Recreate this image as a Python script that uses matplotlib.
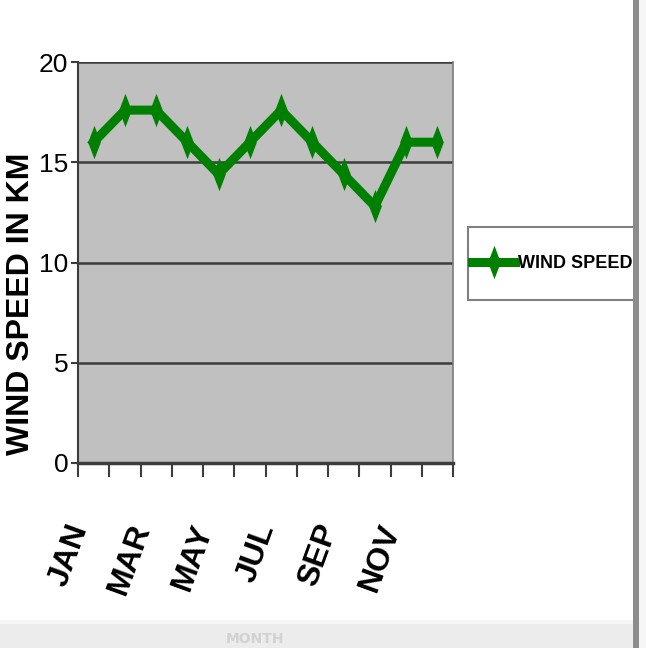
import numpy as np
import matplotlib
matplotlib.use("Agg")
import matplotlib.pyplot as plt
from matplotlib.path import Path
from matplotlib.patches import Rectangle

months = ['JAN', 'FEB', 'MAR', 'APR', 'MAY', 'JUN',
          'JUL', 'AUG', 'SEP', 'OCT', 'NOV', 'DEC']
wind_speed = [16.0, 17.6, 17.6, 16.0, 14.4, 16.0, 17.6, 16.0, 14.4, 12.8, 16.0, 16.0]
y_ticks = [0, 5, 10, 15, 20]

FONT = ['Liberation Sans', 'DejaVu Sans']

W, H = 646, 648
fig = plt.figure(figsize=(W / 100, H / 100), dpi=100)
fig.patch.set_facecolor('white')

# plot area (pixel box of the reference)
left, right, top, bottom = 78, 453, 62, 463
ax = fig.add_axes([left / W, 1 - bottom / H, (right - left) / W, (bottom - top) / H])
ax.set_facecolor('#c0c0c0')

# narrow diamond marker like excel's
diamond = Path([(0, 1), (0.38, 0), (0, -1), (-0.38, 0), (0, 1)],
               [Path.MOVETO, Path.LINETO, Path.LINETO, Path.LINETO, Path.CLOSEPOLY])

x = np.arange(len(months))
ax.plot(x, wind_speed, color='#008000', lw=6.5, marker=diamond, markersize=24,
        markeredgewidth=0, label='WIND SPEED', zorder=3)

ax.set_xlim(-0.5, len(months) - 0.5)
ax.set_ylim(0, 20)

for v in y_ticks[1:]:
    ax.axhline(v, color='#3c3c3c', lw=1.8, zorder=1)

ax.set_yticks(y_ticks)
ax.set_yticklabels([str(v) for v in y_ticks], family=FONT, fontsize=19, color='black')
ax.tick_params(axis='y', length=5, width=1.5, color='#3c3c3c', pad=2)

ax.set_xticks(x[::2])
ax.set_xticklabels(months[::2], rotation=70, ha='right', va='top',
                   family=FONT, fontweight='bold', fontsize=23)
ax.set_xticks(np.arange(-0.5, len(months)), minor=True)
ax.tick_params(axis='x', which='major', length=0, pad=41)
ax.tick_params(axis='x', which='minor', length=10, width=1.5, color='#3c3c3c')

for s in ['left', 'bottom']:
    ax.spines[s].set_color('#3c3c3c')
ax.spines['left'].set_linewidth(1.5)
ax.spines['bottom'].set_linewidth(2.5)
ax.spines['right'].set_color('#7a7a7a')
ax.spines['right'].set_linewidth(1.2)
ax.spines['top'].set_visible(False)

fig.text(21 / W, 1 - 304 / H, 'WIND SPEED IN KM', rotation=90, ha='center', va='center',
         family=FONT, fontweight='bold', fontsize=23)

# legend box drawn by hand so it can run off the right edge like the reference
fig.patches.append(Rectangle((468 / W, 1 - 300 / H), 180 / W, 73 / H, transform=fig.transFigure,
                             facecolor='white', edgecolor='#808080', lw=1.5, zorder=2))
leg = fig.legend(loc='center left', bbox_to_anchor=(472 / W, 1 - 264 / H),
                 prop={'family': FONT, 'weight': 'bold', 'size': 13},
                 frameon=False, borderpad=0, handlelength=2.4,
                 handletextpad=0.15, borderaxespad=0)
leg.set_zorder(3)

# faded bottom band and right edge of the slide
fig.patches.append(Rectangle((0, 0), 1, 24 / H, transform=fig.transFigure,
                             facecolor='#ececec', edgecolor='none', zorder=5))
fig.patches.append(Rectangle((0, 24 / H), 1, 4 / H, transform=fig.transFigure,
                             facecolor='#f6f6f6', edgecolor='none', zorder=5))
fig.text(255 / W, 2 / H, 'MONTH', ha='center', va='bottom', fontsize=10,
         color='#d2d2d2', fontweight='bold', zorder=6)
fig.patches.append(Rectangle((633 / W, 0), 6 / W, 1, transform=fig.transFigure,
                             facecolor='#8c8c8c', edgecolor='none', zorder=5))
fig.patches.append(Rectangle((639 / W, 0), 7 / W, 1, transform=fig.transFigure,
                             facecolor='#f6f6f6', edgecolor='none', zorder=5))

fig.savefig('out.png', dpi=100)
